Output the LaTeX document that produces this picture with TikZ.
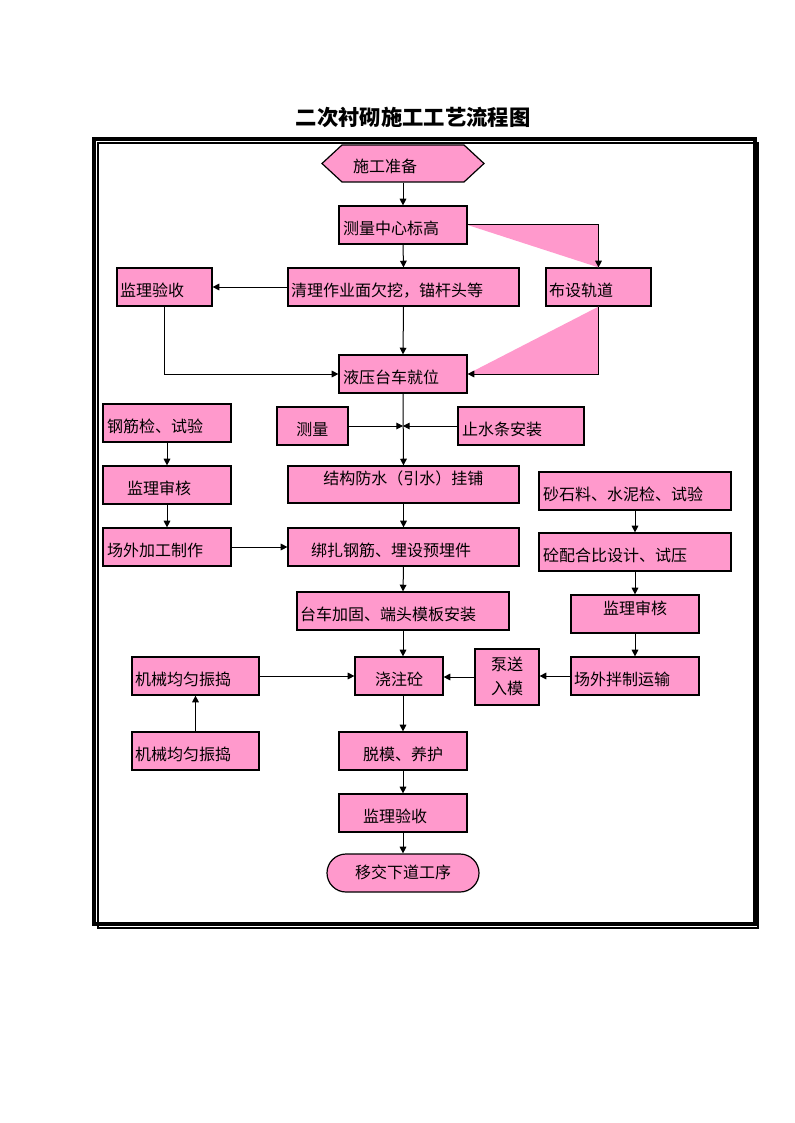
\documentclass[tikz,border=0pt]{standalone}
\usepackage{fontspec}
\newfontfamily\cjk{Noto Sans CJK SC}
\usetikzlibrary{arrows.meta,shapes.misc}
\definecolor{pk}{HTML}{FF99CC}
\begin{document}
\begin{tikzpicture}[x=0.75pt,y=-0.75pt,
  box/.style={draw=black,line width=0.9pt,fill=pk,font=\cjk\fontsize{12pt}{15pt}\selectfont,
    inner xsep=0pt,inner ysep=0pt,align=left,text height=14pt,text depth=0pt},
  bx/.style 2 args={box,minimum width=#1*0.75pt,minimum height=#2*0.75pt,text width=#1*0.75pt},
  up/.style={text height=5pt,text depth=5pt},
  arr/.style={line width=0.75pt,-{Triangle[length=5pt,width=5pt]}},
  ln/.style={line width=0.75pt},
  tri/.style={fill=pk,draw=none}]
\useasboundingbox (0,0) rectangle (794,1123);
% title
\node (title) at (413,117) {\cjk\fontsize{16pt}{18pt}\selectfont\bfseries 二次衬砌施工工艺流程图};
% frame
\draw[line width=0.9pt] (98,143) rectangle (758,928);
\draw[line width=3pt] (94,139) rectangle (755,924);
% hexagon
\filldraw[fill=pk,draw=black,line width=0.9pt] (322,163.5) -- (342,145) -- (464,145) -- (484,163.5) -- (464,182) -- (342,182) -- cycle;
\node[bx={162}{37},draw=none,fill=none] (start) at (403,163.5) {\hspace*{23.25pt}施工准备};
% boxes
\node[bx={128}{38}] (cl) at (403,225) {\hspace*{3pt}测量中心标高};
\node[bx={231}{38}] (ql) at (403.5,287) {\hspace*{2.25pt}清理作业面欠挖，锚杆头等};
\node[bx={95}{38}] (jy1) at (164.5,287) {\hspace*{2.25pt}监理验收};
\node[bx={105}{38}] (bg) at (598.5,287) {\hspace*{2.25pt}布设轨道};
\node[bx={128}{38}] (yy) at (403,374) {\hspace*{3pt}液压台车就位};
\node[bx={128}{38}] (gj) at (167,423) {\hspace*{3pt}钢筋检、试验};
\node[bx={71}{38}] (cm) at (312.5,426) {\hspace*{14.6pt}测量};
\node[bx={126}{38}] (zs) at (521,426) {\hspace*{3pt}止水条安装};
\node[bx={128}{38}] (sh1) at (167,485) {\hspace*{18pt}监理审核};
\node[bx={231}{37},up] (jf) at (403.5,484.5) {\hspace*{26.6pt}结构防水（引水）挂铺};
\node[bx={192}{38}] (ss) at (635,491) {\hspace*{3pt}砂石料、水泥检、试验};
\node[bx={128}{38}] (jg) at (167,547) {\hspace*{3pt}场外加工制作};
\node[bx={231}{38}] (bz) at (403.5,547) {\hspace*{17.25pt}绑扎钢筋、埋设预埋件};
\node[bx={192}{38}] (hb) at (635,552) {\hspace*{3pt}砼配合比设计、试压};
\node[bx={212}{38}] (tc) at (403,611) {\hspace*{2.25pt}台车加固、端头模板安装};
\node[bx={128}{38},up] (sh2) at (635,614) {\hspace*{24pt}监理审核};
\node[bx={127}{38}] (jx1) at (195.5,676) {\hspace*{2.25pt}机械均匀振捣};
\node[bx={88}{38}] (jz) at (399,676) {\hspace*{15pt}浇注砼};
\node[bx={64}{56},align=center,text height=8pt,text depth=18.5pt,
      font=\cjk\fontsize{12pt}{18pt}\selectfont] (bs) at (507,677) {泵送\\入模};
\node[bx={128}{38}] (bl) at (635,676) {\hspace*{2.25pt}场外拌制运输};
\node[bx={127}{38}] (jx2) at (195.5,751) {\hspace*{2.25pt}机械均匀振捣};
\node[bx={128}{38}] (tm) at (403,751) {\hspace*{18pt}脱模、养护};
\node[bx={128}{38}] (yj) at (403,813) {\hspace*{18pt}监理验收};
\node[box,rounded rectangle,minimum width=114pt,minimum height=28.5pt,align=center,
      text height=9pt,text depth=0.5pt] (ys) at (403,873) {移交下道工序};
% pink triangles
\fill[tri] (cl.east) -- (cl.east -| bg.north) -- (bg.north) -- cycle;
\fill[tri] (bg.south) -- (bg.south |- yy.east) -- (yy.east) -- cycle;
% connectors
\draw[arr] (start.south) -- (cl.north);
\draw[arr] (cl.south) -- (ql.north);
\draw[arr] (cl.east) -| (bg.north);
\draw[arr] (ql.west) -- (jy1.east);
\draw[arr] (ql.south) -- (yy.north);
\draw[arr] (jy1.south) |- (yy.west);
\draw[arr] (bg.south) |- (yy.east);
\draw[arr] (yy.south) -- (jf.north);
\coordinate (mid) at (yy.south |- cm.east);
\draw[arr] (cm.east) -- (mid);
\draw[arr] (zs.west) -- (mid);
\draw[arr] (gj.south) -- (sh1.north);
\draw[arr] (sh1.south) -- (jg.north);
\draw[arr] (jg.east) -- (bz.west);
\draw[arr] (jf.south) -- (bz.north);
\draw[arr] (bz.south) -- (tc.north);
\draw[arr] (tc.south) -- (tc.south |- jz.north);
\draw[arr] (ss.south) -- (hb.north);
\draw[arr] (hb.south) -- (sh2.north);
\draw[arr] (sh2.south) -- (bl.north);
\draw[arr] (bl.west) -- (bl.west -| bs.east);
\draw[arr] (bs.west) -- (bs.west -| jz.east);
\draw[arr] (jx1.east) -- (jz.west);
\draw[arr] (jx2.north) -- (jx1.south);
\draw[arr] (jz.south -| tm.north) -- (tm.north);
\draw[arr] (tm.south) -- (yj.north);
\draw[arr] (yj.south) -- (ys.north);
\end{tikzpicture}
\end{document}
